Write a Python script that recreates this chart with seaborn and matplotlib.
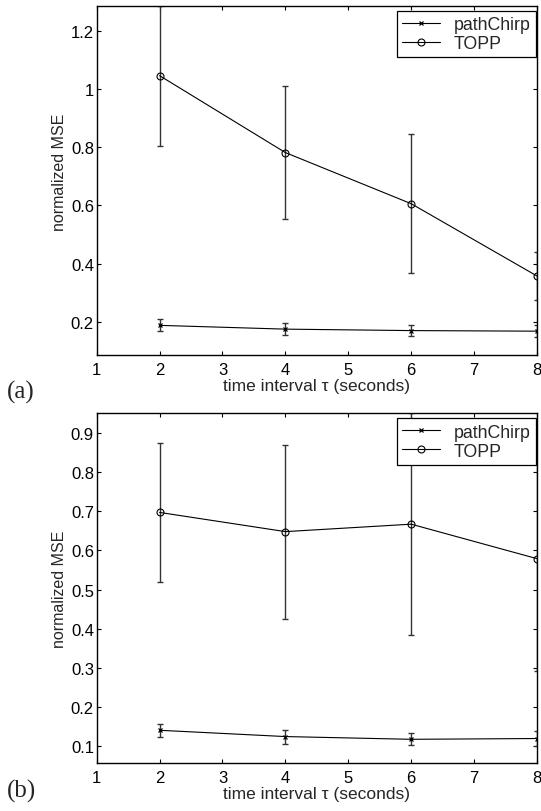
import numpy as np
import pandas as pd
import matplotlib
matplotlib.use("Agg")
import matplotlib.pyplot as plt
import seaborn as sns
from matplotlib.ticker import FormatStrFormatter, MultipleLocator

# time interval tau (seconds)
tau = [2, 4, 6, 8]

# panel (a)
a_chirp = [0.187, 0.174, 0.169, 0.167]
a_chirp_err = [0.021, 0.020, 0.018, 0.020]
a_topp = [1.047, 0.782, 0.606, 0.357]
a_topp_err = [0.241, 0.230, 0.240, 0.083]

# panel (b)
b_chirp = [0.141, 0.125, 0.118, 0.120]
b_chirp_err = [0.016, 0.018, 0.015, 0.019]
b_topp = [0.697, 0.648, 0.667, 0.579]
b_topp_err = [0.178, 0.222, 0.283, 0.287]

sns.set_style("ticks")
plt.rcParams["font.family"] = ["Liberation Sans", "DejaVu Sans"]
plt.rcParams["xtick.direction"] = "in"
plt.rcParams["ytick.direction"] = "in"
plt.rcParams["xtick.major.size"] = 3.2
plt.rcParams["ytick.major.size"] = 3.2
plt.rcParams["xtick.major.width"] = 0.8
plt.rcParams["ytick.major.width"] = 0.8
plt.rcParams["axes.linewidth"] = 1.0
plt.rcParams["axes.edgecolor"] = "black"

fig = plt.figure(figsize=(5.41, 8.12), dpi=100)
ax_a = fig.add_axes([0.1787, 0.5616, 0.8139, 0.4302])
ax_b = fig.add_axes([0.1787, 0.0591, 0.8139, 0.4307])


def draw(ax, chirp, chirp_err, topp, topp_err, ylim, ystep, ylab_y):
    ax.errorbar(tau, chirp, yerr=chirp_err, fmt="none", ecolor="0.2",
                elinewidth=1.0, capsize=2.5, capthick=1.0)
    ax.errorbar(tau, topp, yerr=topp_err, fmt="none", ecolor="0.2",
                elinewidth=1.0, capsize=2.5, capthick=1.0)
    sns.lineplot(x=tau, y=chirp, color="black", linewidth=0.8,
                 marker="x", markersize=3.2, markeredgecolor="black",
                 markeredgewidth=0.9, label="pathChirp", ax=ax)
    sns.lineplot(x=tau, y=topp, color="black", linewidth=0.8,
                 marker="o", markersize=5, markerfacecolor="none",
                 markeredgecolor="black", markeredgewidth=0.8,
                 label="TOPP", ax=ax)
    ax.set_xlim(1, 8)
    ax.set_ylim(*ylim)
    ax.xaxis.set_major_locator(MultipleLocator(1))
    ax.yaxis.set_major_locator(MultipleLocator(ystep))
    ax.yaxis.set_major_formatter(FormatStrFormatter("%g"))
    ax.tick_params(top=True, right=True, labelsize=12, colors="black")
    ax.tick_params(axis="x", pad=5)
    ax.tick_params(axis="y", pad=2)
    ax.set_xlabel("time interval \u03c4 (seconds)", fontsize=12.5, labelpad=1)
    ax.set_ylabel("normalized MSE", fontsize=11.5)
    ax.yaxis.set_label_coords(-0.068, ylab_y)
    handles, labels = ax.get_legend_handles_labels()
    leg = ax.legend(handles, labels, loc="upper right",
                    bbox_to_anchor=(0.998, 0.986), borderaxespad=0,
                    fontsize=12.8, fancybox=False, framealpha=1,
                    edgecolor="black", handlelength=2.1, handletextpad=0.8,
                    borderpad=0.3, labelspacing=0.12)
    leg.get_frame().set_linewidth(0.9)


draw(ax_a, a_chirp, a_chirp_err, a_topp, a_topp_err, (0.085, 1.288), 0.2, 0.525)
draw(ax_b, b_chirp, b_chirp_err, b_topp, b_topp_err, (0.0575, 0.95), 0.1, 0.5)

fig.text(0.012, 0.517, "(a)", family="Liberation Serif", fontsize=18,
         va="center", ha="left")
fig.text(0.012, 0.025, "(b)", family="Liberation Serif", fontsize=18,
         va="center", ha="left")

fig.savefig("out.png", dpi=100)
